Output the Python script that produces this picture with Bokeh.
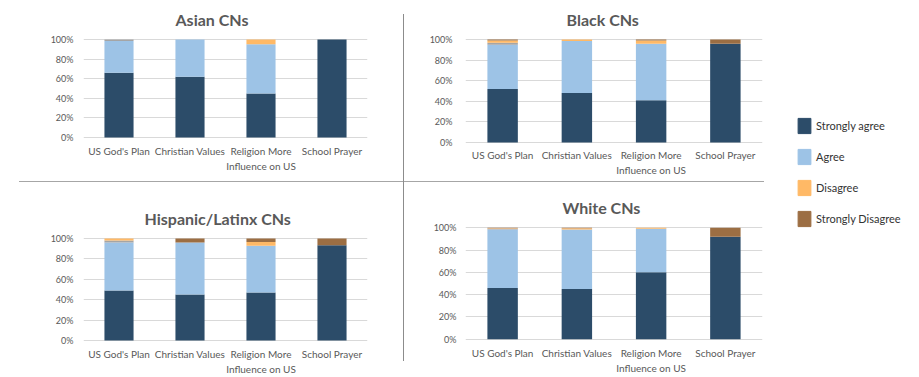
from bokeh.plotting import figure
from bokeh.models import (ColumnDataSource, Range1d, FixedTicker, PrintfTickFormatter,
                          Title, Legend, LegendItem, Spacer, LinearAxis)
from bokeh.layouts import row, column
from bokeh.embed import file_html
from bokeh.resources import INLINE

categories = ["US God's Plan", "Christian Values", "Religion More Influence on US", "School Prayer"]
label_line1 = ["US God's Plan", "Christian Values", "Religion More", "School Prayer"]
label_line2 = ["", "", "Influence on US", ""]
y_ticks = [0, 20, 40, 60, 80, 100]

series_keys = ["strongly_agree", "agree", "other", "disagree", "strongly_disagree"]
legend_names = ["Strongly agree", "Agree", "Disagree", "Strongly Disagree"]

# values in percent
asian_strongly_agree = [66, 62, 45, 100]
asian_agree = [32.5, 38, 50, 0]
asian_other = [1.5, 0, 0, 0]
asian_disagree = [0, 0, 5, 0]
asian_strongly_disagree = [0, 0, 0, 0]

black_strongly_agree = [52, 48, 41, 96]
black_agree = [43, 50.5, 55, 0]
black_other = [2, 0, 0, 0]
black_disagree = [2, 1.5, 3, 0]
black_strongly_disagree = [1, 0, 1, 4]

hispanic_strongly_agree = [49, 45, 47, 93.5]
hispanic_agree = [47, 51, 46, 0]
hispanic_other = [2, 0, 0, 0]
hispanic_disagree = [2, 0, 3.5, 0]
hispanic_strongly_disagree = [0, 4, 3.5, 6.5]

white_strongly_agree = [46, 45, 60, 92]
white_agree = [52.5, 53.5, 39, 0]
white_other = [0.5, 0, 0, 0]
white_disagree = [0.5, 1, 1, 0]
white_strongly_disagree = [0.5, 0.5, 0, 8]

COLORS = ["#2C4C69", "#9DC3E6", "#A5A5A5", "#FFB966", "#9C6E43"]
FONT = "Lato"
TXT = "#595959"

# each category occupies one unit slot; its bar and label sit at the slot centre
cat_centres = [i + 0.5 for i in range(len(categories))]


def style_axis(ax, size):
    ax.axis_line_color = None
    ax.major_tick_line_color = None
    ax.minor_tick_line_color = None
    ax.major_tick_out = 0
    ax.major_tick_in = 0
    ax.minor_tick_out = 0
    ax.minor_tick_in = 0
    ax.major_label_text_font = FONT
    ax.major_label_text_color = TXT
    ax.major_label_text_font_size = size


def make_panel(title, vals, width, height, borders, title_offset, y_standoff, x_standoff):
    left, right, top, bottom = borders
    data = {"cat": categories, "x": cat_centres}
    for k, v in zip(series_keys, vals):
        data[k] = v
    src = ColumnDataSource(data)
    p = figure(width=width, height=height, x_range=Range1d(0, len(categories)),
               y_range=Range1d(-2, 102),
               output_backend="svg", toolbar_location=None,
               min_border_left=left, min_border_right=right,
               min_border_top=top, min_border_bottom=bottom)
    p.vbar_stack(series_keys, x="x", width=0.41, color=COLORS, source=src, line_width=0)
    p.add_layout(Title(text=title, align="left", offset=title_offset, standoff=16,
                       vertical_align="middle",
                       text_font=FONT, text_font_size="16px", text_font_style="bold",
                       text_color=TXT), "above")
    p.outline_line_color = None
    p.xgrid.grid_line_color = None
    p.ygrid.grid_line_color = "#D9D9D9"
    p.ygrid.ticker = FixedTicker(ticks=y_ticks)
    p.yaxis.ticker = FixedTicker(ticks=y_ticks)
    p.yaxis.formatter = PrintfTickFormatter(format="%d%%")
    style_axis(p.yaxis[0], "9px")
    p.yaxis.major_label_standoff = y_standoff

    ax1 = p.xaxis[0]
    ax1.ticker = FixedTicker(ticks=cat_centres, minor_ticks=[])
    ax1.major_label_overrides = dict(zip(cat_centres, label_line1))
    style_axis(ax1, "10px")
    ax1.major_label_standoff = x_standoff

    pos2 = [c for c, t in zip(cat_centres, label_line2) if t]
    txt2 = [t for t in label_line2 if t]
    ax2 = LinearAxis(ticker=FixedTicker(ticks=pos2, minor_ticks=[]),
                     major_label_overrides=dict(zip(pos2, txt2)))
    style_axis(ax2, "10px")
    ax2.major_label_standoff = 0
    p.add_layout(ax2, "below")
    return p


asian = make_panel("Asian CNs",
                   [asian_strongly_agree, asian_agree, asian_other, asian_disagree, asian_strongly_disagree],
                   403, 181, (83, 36, 37, 42), 92, 10, 5)
black = make_panel("Black CNs",
                   [black_strongly_agree, black_agree, black_other, black_disagree, black_strongly_disagree],
                   366, 181, (61, 4, 37, 37), 101, 13, 4)
hispanic = make_panel("Hispanic/Latinx CNs",
                      [hispanic_strongly_agree, hispanic_agree, hispanic_other, hispanic_disagree,
                       hispanic_strongly_disagree],
                      403, 195, (83, 26, 54, 29), 61, 10, 5)
white = make_panel("White CNs",
                   [white_strongly_agree, white_agree, white_other, white_disagree, white_strongly_disagree],
                   366, 195, (61, 8, 43, 36), 97, 9, 5)

# legend-only figure (renderers sit outside the visible range)
lg = figure(width=149, height=377, x_range=Range1d(0, 1), y_range=Range1d(0, 1),
            output_backend="svg", toolbar_location=None, min_border=0,
            x_axis_location=None, y_axis_location=None)
lg.grid.visible = False
lg.outline_line_color = None
items = []
legend_colors = [COLORS[0], COLORS[1], COLORS[3], COLORS[4]]
for name, c in zip(legend_names, legend_colors):
    r = lg.vbar(x=[-10], top=[-10], bottom=[-11], width=0.5, color=c)
    items.append(LegendItem(label=name, renderers=[r]))
legend = Legend(items=items, location=(26, 149), glyph_width=16, glyph_height=19,
                spacing=12, padding=0, margin=0, label_standoff=4,
                border_line_alpha=0, background_fill_alpha=0,
                label_text_font=FONT, label_text_font_size="11px", label_text_color="#333333")
lg.add_layout(legend)

hline_left = Spacer(width=384, height=1, margin=(0, 0, 0, 19), styles={"background-color": "#A6A6A6"})
hline_right = Spacer(width=360, height=1, margin=(0, 6, 0, 0), styles={"background-color": "#A6A6A6"})
vline = Spacer(width=1, height=347, margin=(14, 0, 16, 0), styles={"background-color": "#8C8C8C"})

left_col = column(asian, hline_left, hispanic, spacing=0)
right_col = column(black, hline_right, white, spacing=0)
layout = row(left_col, vline, right_col, lg, spacing=0)

open("out.html", "w").write(file_html(layout, INLINE))
